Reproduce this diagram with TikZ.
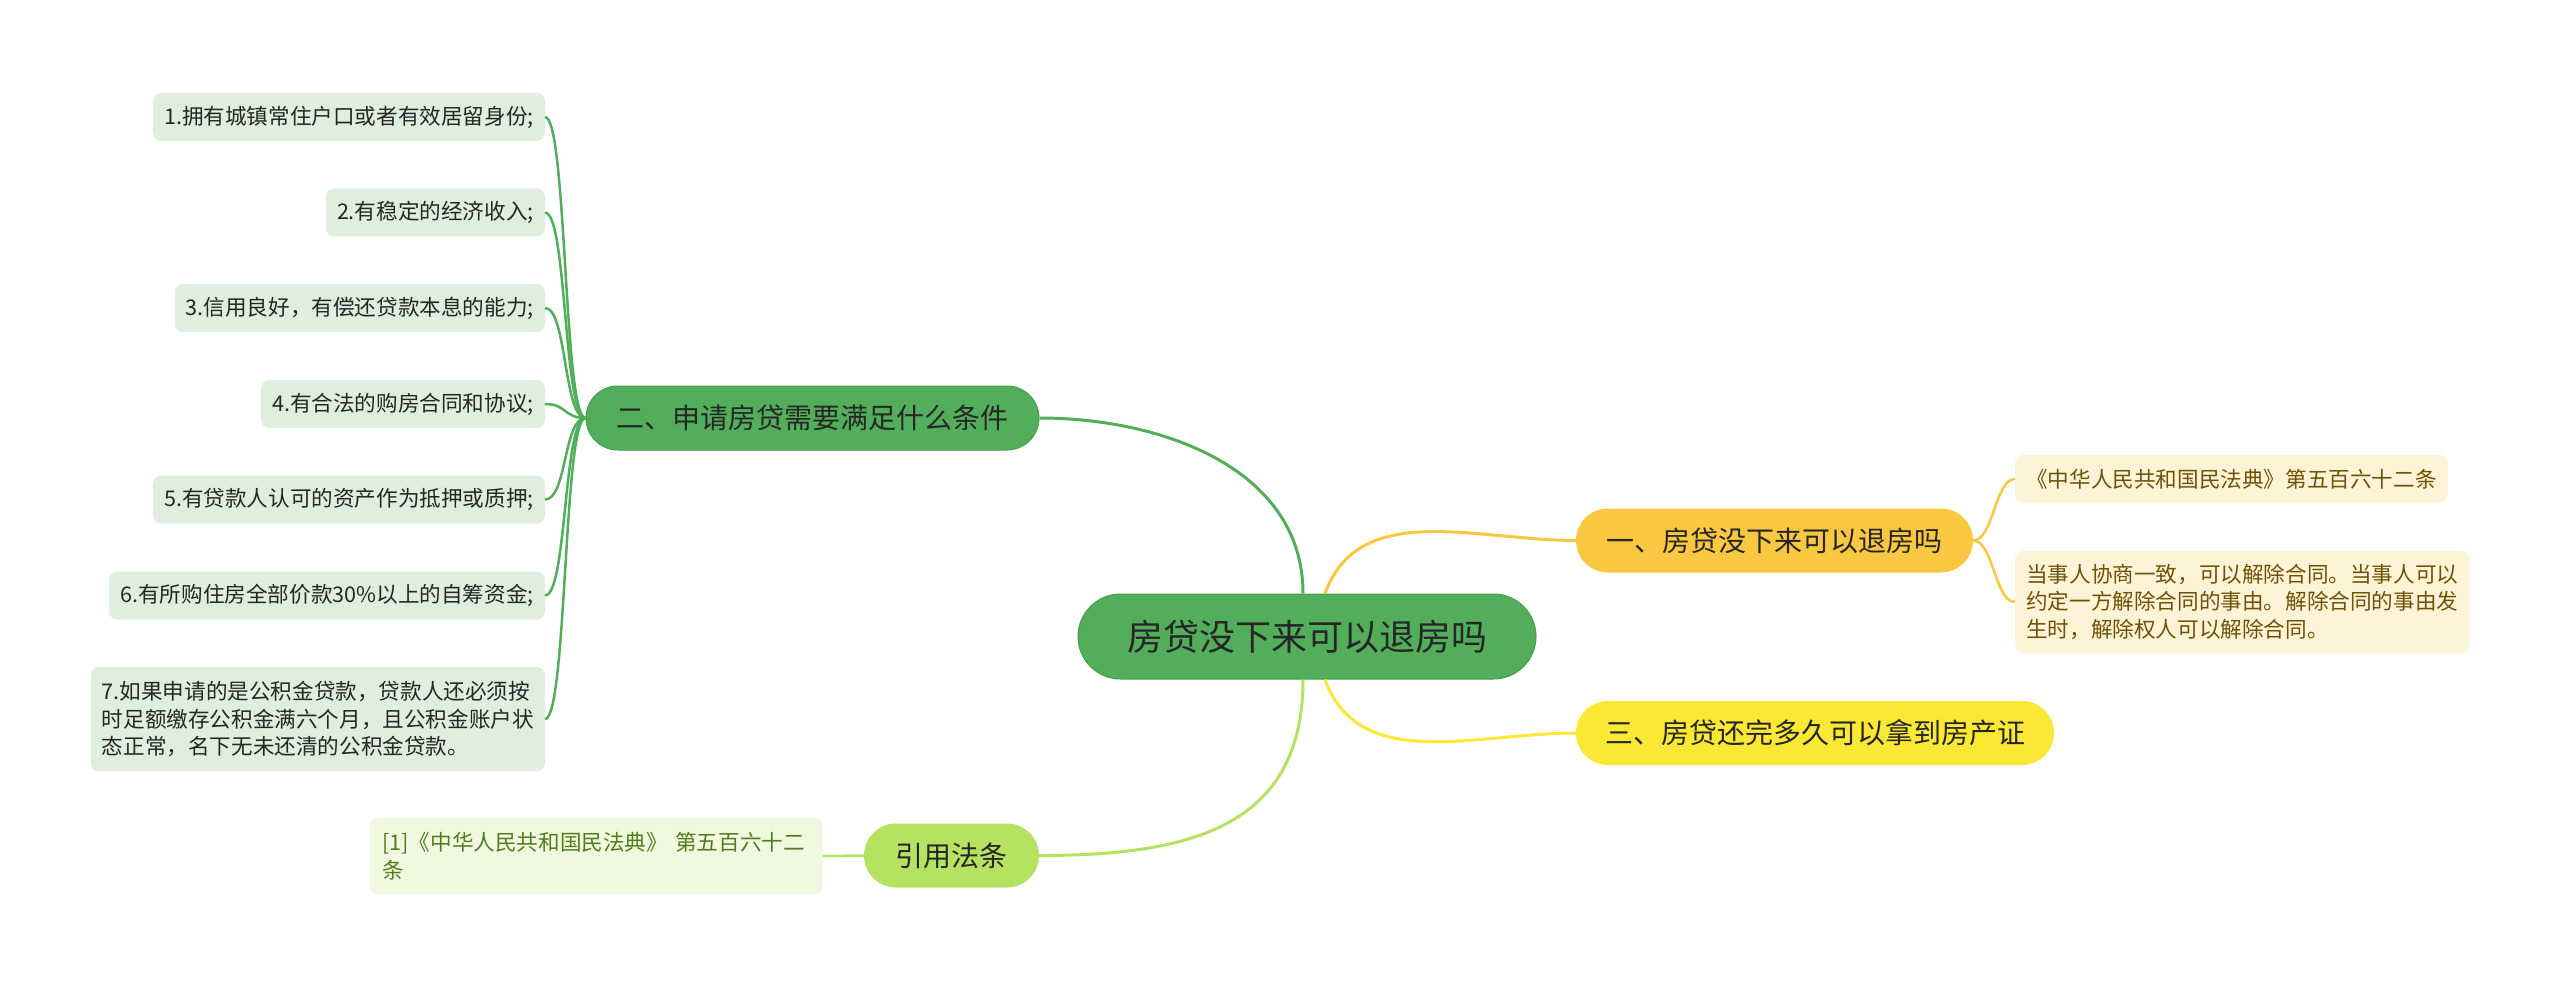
\documentclass[tikz,border=0pt]{standalone}
\usepackage{fontspec}
\setmainfont{Noto Sans CJK SC}
\usetikzlibrary{calc}
\definecolor{rootgreen}{RGB}{82,174,90}
\definecolor{rootedge}{RGB}{70,158,78}
\definecolor{orangeb}{RGB}{250,200,64}
\definecolor{yellowb}{RGB}{250,232,52}
\definecolor{limeb}{RGB}{181,226,96}
\definecolor{leafgreen}{RGB}{222,239,222}
\definecolor{leafcream}{RGB}{253,244,216}
\definecolor{leaflime}{RGB}{240,249,224}
\definecolor{txtbrown}{RGB}{112,82,6}
\definecolor{txtolive}{RGB}{82,125,28}
\tikzset{
  topic/.style={rounded corners=32pt, minimum height=64pt, inner xsep=0pt,
    font=\fontsize{28}{34}\selectfont, text=black!85},
  leafbox/.style={rounded corners=8pt, inner xsep=11pt, inner ysep=6pt,
    minimum height=48pt, align=left, font=\fontsize{21.6}{27.5}\selectfont},
  link/.style={line width=3pt},
  twig/.style={line width=2.5pt},
}
\begin{document}
\begin{tikzpicture}[x=1pt,y=-1pt]
    \fill[white] (0,0) rectangle (2560,987);
    \useasboundingbox (0,0) rectangle (2560,987);

    % centre and main topics
    \node[rounded corners=42.5pt, minimum width=458pt, minimum height=85pt,
      fill=rootgreen, draw=rootedge, line width=1pt, text=black!85,
      font=\fontsize{36}{40}\selectfont] (root) at (1307,636.5) {房贷没下来可以退房吗};
    \node[topic, minimum width=453pt, fill=rootgreen, draw=rootedge, line width=1pt] (cond) at (812.5,418) {二、申请房贷需要满足什么条件};
    \node[topic, minimum width=397pt, fill=orangeb] (refund) at (1774.5,540.5) {一、房贷没下来可以退房吗};
    \node[topic, minimum width=478pt, fill=yellowb] (deed) at (1815,733) {三、房贷还完多久可以拿到房产证};
    \node[topic, minimum width=175pt, fill=limeb] (law) at (951.5,855.5) {引用法条};

    \draw[link, rootgreen] ($(root.north)+(-4,0)$) to[out=90, in=0] (cond.east);
    \draw[link, limeb] ($(root.south)+(-4,0)$) to[out=-90, in=0, looseness=1.2] (law.east);
    \draw[link, orangeb] ($(root.north)+(18,0)$) to[out=70, in=180] (refund.west);
    \draw[link, yellowb] ($(root.south)+(18,0)$) to[out=-70, in=180] (deed.west);

    % conditions
    \foreach \y/\name/\txt in {117/c1/{1.拥有城镇常住户口或者有效居留身份;},
        212.5/c2/{2.有稳定的经济收入;},
        308/c3/{3.信用良好，有偿还贷款本息的能力;},
        404/c4/{4.有合法的购房合同和协议;},
        499.5/c5/{5.有贷款人认可的资产作为抵押或质押;},
        595.5/c6/{6.有所购住房全部价款30\%以上的自筹资金;}} {
      \node[leafbox, fill=leafgreen, text=black!85, anchor=east] (\name) at (545,\y) {\txt};
      \draw[twig, rootgreen] (cond.west) .. controls +(-22,0) and +(22,0) .. (\name.east);
    }
    \node[leafbox, fill=leafgreen, text=black!85, anchor=east, minimum height=104pt] (c7) at (545,719)
      {7.如果申请的是公积金贷款，贷款人还必须按\\时足额缴存公积金满六个月，且公积金账户状\\态正常，名下无未还清的公积金贷款。};
    \draw[twig, rootgreen] (cond.west) .. controls +(-22,0) and +(22,0) .. (c7.east);

    % refund
    \node[leafbox, fill=leafcream, text=txtbrown, anchor=west] (r1) at (2015,479) {《中华人民共和国民法典》第五百六十二条};
    \node[leafbox, fill=leafcream, text=txtbrown, anchor=west, minimum height=102pt] (r2) at (2015,602)
      {当事人协商一致，可以解除合同。当事人可以\\约定一方解除合同的事由。解除合同的事由发\\生时，解除权人可以解除合同。};
    \draw[twig, orangeb] (refund.east) .. controls +(20,0) and +(-20,0) .. (r1.west);
    \draw[twig, orangeb] (refund.east) .. controls +(20,0) and +(-20,0) .. (r2.west);

    % law
    \node[leafbox, fill=leaflime, text=txtolive, anchor=east, minimum height=76pt, minimum width=453pt,
      text width=428pt] (lawtxt) at (823,856)
      {[1]《中华人民共和国民法典》 第五百六十二\\条};
    \draw[twig, limeb] (law.west) -- (lawtxt.east);
\end{tikzpicture}
\end{document}
